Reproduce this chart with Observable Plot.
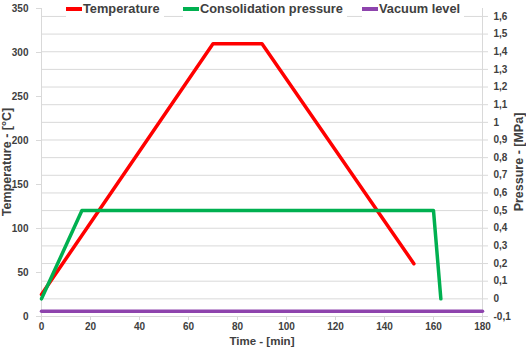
<!DOCTYPE html>
<html>
<head>
<meta charset="utf-8">
<script src="https://cdn.jsdelivr.net/npm/d3@7"></script>
<script src="https://cdn.jsdelivr.net/npm/@observablehq/plot@0.6"></script>
<style>
  body { margin: 0; background: #fff; }
  #wrap { position: relative; width: 526px; height: 348px; overflow: hidden; }
  .leg { position: absolute; top: 1px; height: 17px; line-height: 17px; font: bold 12.8px "Liberation Sans", sans-serif; color: #404040; white-space: nowrap; background: #fff; }
  .sw { display: inline-block; width: 16px; height: 4px; vertical-align: middle; margin-right: 1px; position: relative; top: -1px; }
</style>
</head>
<body>
<div id="wrap"></div>
<script>
// ---- data ----
const timeTicks = [0, 20, 40, 60, 80, 100, 120, 140, 160, 180];
const tempTicks = [0, 50, 100, 150, 200, 250, 300, 350];
const pressTicks = [-0.1, 0, 0.1, 0.2, 0.3, 0.4, 0.5, 0.6, 0.7, 0.8, 0.9, 1.0, 1.1, 1.2, 1.3, 1.4, 1.5, 1.6];

const seriesNames = ["Temperature", "Consolidation pressure", "Vacuum level"];
const seriesColors = ["#ff0000", "#00b050", "#8e44ad"];

const tempTime = [0, 70, 90, 152];
const tempValues = [25, 310, 310, 60];          // °C
const pressTime = [0, 16.5, 160, 163];
const pressValues = [0, 0.5, 0.5, 0];           // MPa
const vacTime = [0, 180];
const vacValues = [-0.07, -0.07];               // MPa

// secondary (pressure) axis mapped onto the primary temperature scale
const p2t = d3.scaleLinear([-0.1, 1.745 - 0.1], [0, 350]);

const tempData = tempTime.map((t, i) => ({t, v: tempValues[i]}));
const pressData = pressTime.map((t, i) => ({t, v: p2t(pressValues[i])}));
const vacData = vacTime.map((t, i) => ({t, v: p2t(vacValues[i])}));

const fmtP = d => {
  const p = Math.round(p2t.invert(d) * 10) / 10;
  return String(p === 0 ? 0 : p).replace(".", ",");
};

const gray = "#d9d9d9";
const txt = "#404040";

const chart = Plot.plot({
  width: 526,
  height: 348,
  marginLeft: 41,
  marginRight: 44,
  marginTop: 8,
  marginBottom: 32,
  style: {background: "#fff", fontFamily: "'Liberation Sans', sans-serif", fontSize: "10px", fontWeight: "bold", color: txt},
  x: {domain: [0, 180]},
  y: {domain: [0, 350]},
  marks: [
    Plot.ruleY(pressTicks.map(p => p2t(p)), {stroke: gray, strokeWidth: 1}),
    Plot.ruleX([0, 180], {stroke: gray, strokeWidth: 1}),
    Plot.ruleY([0], {stroke: gray, strokeWidth: 1}),
    Plot.axisY(tempTicks, {anchor: "left", tickSize: 5, tickPadding: 8, stroke: gray, fill: txt, fontWeight: "bold", label: null}),
    Plot.axisY(pressTicks.map(p => p2t(p)), {anchor: "right", tickSize: 5, tickPadding: 6, stroke: gray, fill: txt, fontWeight: "bold", tickFormat: fmtP, label: null}),
    Plot.axisX(timeTicks, {anchor: "bottom", tickSize: 4, tickPadding: 2, stroke: gray, fill: txt, fontWeight: "bold", label: null}),
    Plot.line(tempData, {x: "t", y: "v", stroke: seriesColors[0], strokeWidth: 3.5}),
    Plot.line(pressData, {x: "t", y: "v", stroke: seriesColors[1], strokeWidth: 3.5}),
    Plot.line(vacData, {x: "t", y: "v", stroke: seriesColors[2], strokeWidth: 3.5})
  ]
});

const svg = d3.select(chart);
svg.append("text")
  .attr("transform", "translate(11,162) rotate(-90)")
  .attr("text-anchor", "middle")
  .attr("fill", txt)
  .style("font", "bold 12.5px 'Liberation Sans', sans-serif")
  .text("Temperature - [°C]");
svg.append("text")
  .attr("transform", "translate(523,162) rotate(-90)")
  .attr("text-anchor", "middle")
  .attr("fill", txt)
  .style("font", "bold 12.5px 'Liberation Sans', sans-serif")
  .text("Pressure - [MPa]");
svg.append("text")
  .attr("x", 262)
  .attr("y", 345)
  .attr("text-anchor", "middle")
  .attr("fill", txt)
  .style("font", "bold 11.5px 'Liberation Sans', sans-serif")
  .text("Time - [min]");

const wrap = document.getElementById("wrap");
wrap.appendChild(chart);

const legendX = [66, 183, 362];
seriesNames.forEach((name, i) => {
  const d = document.createElement("div");
  d.className = "leg";
  d.style.left = legendX[i] + "px";
  d.style.paddingRight = "4px";
  const s = document.createElement("span");
  s.className = "sw";
  s.style.background = seriesColors[i];
  d.appendChild(s);
  d.appendChild(document.createTextNode(name));
  wrap.appendChild(d);
});
</script>
</body>
</html>
